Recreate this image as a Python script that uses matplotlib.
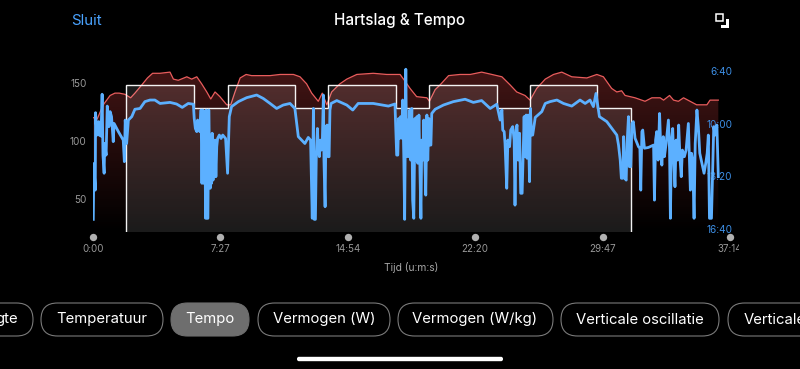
import numpy as np
import matplotlib
matplotlib.use("Agg")
import matplotlib.pyplot as plt
from matplotlib.patches import FancyBboxPatch, Rectangle, Polygon
from matplotlib.transforms import Bbox, blended_transform_factory

plt.rcParams['font.family'] = ['Inter', 'Roboto', 'DejaVu Sans']

# ---------- data ----------
hr_time = [1,15,36,60,77,92,112,132,147,171,191,209,235,270,282,299,329,346,364,381,399,413,428,445,469,483,498,516,537,556,586,621,656,703,726,749,767,790,804,820,837,866,890,925,983,1030,
           1042,1077,1095,1112,1135,1171,1180,1200,1217,1247,1287,1323,1363,1399,1434,1463,1486,1515,1533,1556,1586,1615,1644,1679,1732,1767,1790,1819,1837,1854,1866,1901,1936,1960,1989,2001,2022,2036,2053,2071,2094,2117,2153,2164,2193]
hr_value = [120,119,131,139,141,141,140,137,141,148,154,158,158,159,153,152,155,153,155,149,142,136,142,138,131,131,142,154,157,156,156,156,157,157,155,149,141,134,141,131,142,149,153,157,158,157,
            157,157,151,145,138,137,134,144,148,156,157,157,159,157,155,148,142,139,135,145,153,157,159,155,154,157,155,145,142,143,139,137,134,137,137,135,139,135,134,137,134,131,131,135,135]

pace_time = [1,3,8,9,14,20,22,28,32,35,39,41,46,50,56,60,65,71,74,89,106,110,113,118,124,136,147,165,182,200,217,235,270,293,313,334,352,
             355,359,364,367,371,375,379,382,385,388,390,393,395,397,400,403,406,409,411,414,416,418,421,423,425,428,431,434,437,443,449,455,465,472,
             478,486,510,539,574,597,621,644,667,691,708,720,743,755,763,
             769,773,776,780,783,787,790,794,797,801,804,808,810,814,817,821,824,828,831,835,
             855,890,911,930,983,1036,1059,
             1065,1069,1072,1076,1079,1083,1086,1090,1093,1097,1100,1104,1107,1111,1114,1118,1121,1125,1129,1132,1136,1139,1143,1146,1150,1153,1157,1160,1164,1167,1171,1174,1178,1181,1185,1188,
             1200,1229,1264,1305,1334,1363,1393,1416,
             1428,1434,1437,1442,1445,1451,1455,1461,1465,1472,1477,1480,1484,1487,1491,1496,1500,1505,1508,1512,1515,1519,1522,1526,1531,1534,1538,1542,
             1551,1574,1586,1603,1627,1650,1679,1708,1726,1743,1755,1764,1776,1802,1837,
             1843,1849,1853,1858,1861,1865,1870,1873,1878,1881,1886,1890,1895,1901,1913,1918,1921,1925,1928,1934,1948,1966,1969,1973,1977,1982,1987,1991,1995,2000,2004,2010,2018,2022,2025,2029,2033,2037,2041,2045,2050,2054,2059,2063,2067,2074,2080,2088,2092,2095,2099,2103,2108,2112,2118,2123,2128,2133,2137,2143,2149,2154,2158,2162,2169,2174,2177,2182,2188,2193]
pace_value = [963,751,852,558,643,592,643,647,488,719,788,675,719,533,611,554,573,668,599,630,662,744,586,675,586,573,545,542,516,510,510,523,519,525,538,523,526,
              580,618,630,586,624,630,548,826,548,826,554,738,959,548,959,959,548,725,845,662,826,636,814,675,801,662,801,687,656,643,656,643,656,788,
              573,535,516,501,491,504,523,542,529,523,542,649,675,652,662,
              959,542,963,963,731,618,693,725,662,700,681,491,738,915,611,605,725,725,548,523,
              512,529,548,523,523,533,525,
              719,719,580,655,573,655,510,725,963,393,725,586,725,548,738,542,890,959,580,738,573,750,567,738,959,662,738,586,738,871,567,738,580,681,681,561,
              545,529,516,507,519,512,542,526,
              586,548,624,630,675,845,662,687,624,611,662,909,624,605,738,636,864,864,738,573,725,567,731,567,820,542,643,643,
              576,554,523,516,510,523,533,510,523,510,535,485,573,592,643,
              681,738,807,807,649,807,814,675,573,763,763,599,592,655,687,693,852,630,624,693,690,681,890,662,630,738,561,687,757,649,725,675,586,700,959,662,618,738,839,662,738,605,738,801,700,725,700,599,738,852,712,738,959,675,548,611,712,738,757,788,750,712,643,959,959,738,611,643,605,801]

step_edges = [117,354,472,707,825,1063,1180,1416,1533,1769,1886]
step_pace = [453,539,453,539,453,539,453,539,453,539]

x_ticks = [0,447,894,1340,1787,2234]
x_labels = ['0:00','7:27','14:54','22:20','29:47','37:14']
hr_ticks = [50,100,150]
pace_ticks = [400,600,800,1000]
pace_labels = ['6:40','10:00','13:20','16:40']
chips = ['gte','Temperatuur','Tempo','Vermogen (W)','Vermogen (W/kg)','Verticale oscillatie','Verticale']

# ---------- figure ----------
W, H = 800, 369
fig = plt.figure(figsize=(W/100, H/100), dpi=100, facecolor='black')
L, R, T, B = 93, 730, 65, 232
ax = fig.add_axes([L/W, 1-B/H, (R-L)/W, (B-T)/H], facecolor='none')
HR_LIM = (22, 165.1)
PACE_LIM = (1011, 377)

# red gradient under the heart-rate curve
grad = np.zeros((256, 1, 4))
grad[..., 0] = 0.80; grad[..., 1] = 0.25; grad[..., 2] = 0.25
grad[:, 0, 3] = np.linspace(0.34, 0.0, 256)
im = ax.imshow(grad, extent=[0, 2234, HR_LIM[0], HR_LIM[1]], aspect='auto', origin='upper', zorder=1, interpolation='bilinear')
poly = ax.fill_between(hr_time, hr_value, HR_LIM[0], color='none', zorder=0)
im.set_clip_path(poly.get_paths()[0], transform=ax.transData)
ax.plot(hr_time, hr_value, color='#e85c5c', lw=0.9, zorder=3)

ax.set_xlim(0, 2234)
ax.set_ylim(*HR_LIM)
ax.set_yticks(hr_ticks)
ax.set_xticks(x_ticks)
ax.set_xticklabels(x_labels)
ax.tick_params(axis='y', length=0, pad=4.5, labelsize=7.2, labelcolor='#989898')
ax.tick_params(axis='x', length=0, pad=8.5, labelsize=7.0, labelcolor='#989898')
ax.set_xlabel('Tijd (u:m:s)', fontsize=7.4, color='#a8a8a8', labelpad=6)
for s in ax.spines.values():
    s.set_visible(False)
for lab in ax.get_xticklabels():
    lab.set_clip_on(True)
    lab.set_clip_box(Bbox([[0, 0], [739, H]]))
# tick dots
ax.scatter(x_ticks, [-0.028]*len(x_ticks), s=28, color='#b0b0b0', clip_on=False, lw=0, zorder=5,
           transform=blended_transform_factory(ax.transData, ax.transAxes))

# pace axis
ax2 = ax.twinx()
ax2.set_facecolor('none')
ax2.set_ylim(*PACE_LIM)
ax2.set_yticks(pace_ticks)
ax2.set_yticklabels(pace_labels, ha='right')
ax2.tick_params(axis='y', length=0, pad=1.5, labelsize=7.2, labelcolor='#3d8fe6')
for s in ax2.spines.values():
    s.set_visible(False)
ax2.stairs(step_pace, step_edges, baseline=PACE_LIM[0], fill=True, color='white', alpha=0.11, lw=0, zorder=2)
ax2.stairs(step_pace, step_edges, baseline=PACE_LIM[0], fill=False, color='white', alpha=0.95, lw=1.0, zorder=3)
ax2.plot(pace_time, pace_value, color='#5cb0ff', lw=2.0, solid_joinstyle='round', zorder=4)

# ---------- app chrome ----------
ui = fig.add_axes([0, 0, 1, 1], facecolor='none')
ui.set_xlim(0, W); ui.set_ylim(H, 0); ui.axis('off')
ui.text(71, 21, 'Sluit', color='#4aa3ff', fontsize=10.8, va='center', ha='left')
ui.text(400, 21, 'Hartslag & Tempo', color='white', fontsize=11.0, va='center', ha='center', fontweight='medium')
ui.add_patch(Rectangle((715.5, 13.5), 7.5, 7.5, fill=False, ec='white', lw=1.1))
ui.add_patch(Polygon([(725.5, 19), (729, 19), (729, 27.5), (721, 27.5), (721, 24.5), (725.5, 24.5)], fc='white', ec='none'))

chip_left = [-60, 41, 171, 258, 398, 561, 728]
chip_right = [33, 163, 249, 390, 553, 719, 860]
chip_textx = [18, 102, 210, 324, 475, 640, 744]
chip_align = ['right', 'center', 'center', 'center', 'center', 'center', 'left']
for name, a, b, cx, al in zip(chips, chip_left, chip_right, chip_textx, chip_align):
    on = name == 'Tempo'
    ui.add_patch(FancyBboxPatch((a+16.5, 303+16.5), b-a-33, 0, boxstyle='round,pad=16.5,rounding_size=16.5',
                                fc='#6e6e6e' if on else 'black', ec='#6e6e6e' if on else '#7a7a7a', lw=0.8,
                                mutation_aspect=1))
    ui.text(cx, 319.5, name, color='white', fontsize=10.7, va='center', ha=al, clip_on=True)
ui.add_patch(FancyBboxPatch((299, 358.8), 202, 0.4, boxstyle='round,pad=2,rounding_size=2', fc='white', ec='none'))

fig.savefig('out.png', dpi=100, facecolor='black')
